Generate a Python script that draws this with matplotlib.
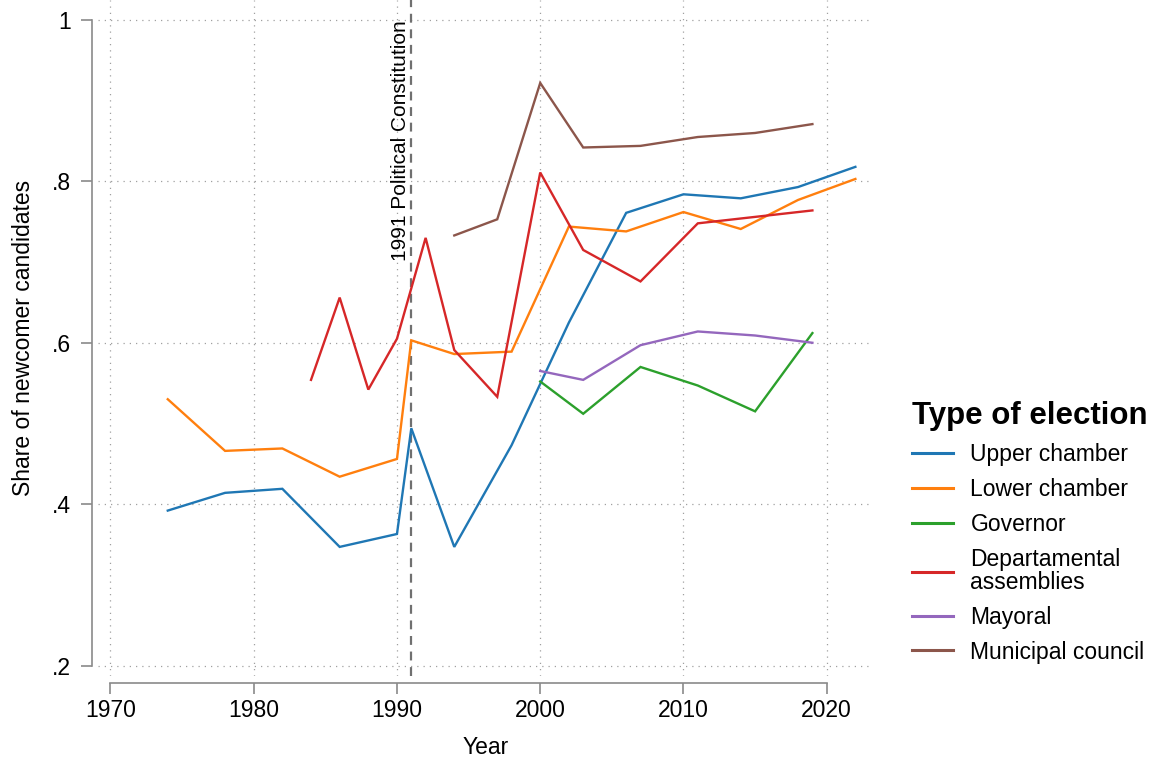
import matplotlib
matplotlib.use("Agg")
import matplotlib.pyplot as plt

plt.rcParams['font.family'] = ['Liberation Sans', 'DejaVu Sans']

# ---- data ----
upper_years = [1974, 1978, 1982, 1986, 1990, 1991, 1994, 1998, 2002, 2006, 2010, 2014, 2018, 2022]
upper_vals = [0.392, 0.414, 0.419, 0.347, 0.363, 0.494, 0.347, 0.473, 0.625, 0.761, 0.784, 0.779, 0.793, 0.818]

lower_years = [1974, 1978, 1982, 1986, 1990, 1991, 1994, 1998, 2002, 2006, 2010, 2014, 2018, 2022]
lower_vals = [0.530, 0.466, 0.469, 0.434, 0.456, 0.603, 0.586, 0.589, 0.744, 0.738, 0.762, 0.741, 0.777, 0.803]

gov_years = [2000, 2003, 2007, 2011, 2015, 2019]
gov_vals = [0.552, 0.512, 0.570, 0.547, 0.515, 0.612]

dep_years = [1984, 1986, 1988, 1990, 1992, 1994, 1997, 2000, 2003, 2007, 2011, 2015, 2019]
dep_vals = [0.554, 0.656, 0.542, 0.605, 0.730, 0.591, 0.533, 0.811, 0.715, 0.676, 0.748, 0.756, 0.764]

may_years = [2000, 2003, 2007, 2011, 2015, 2019]
may_vals = [0.565, 0.554, 0.597, 0.614, 0.609, 0.600]

mun_years = [1994, 1997, 2000, 2003, 2007, 2011, 2015, 2019]
mun_vals = [0.733, 0.753, 0.922, 0.842, 0.844, 0.855, 0.860, 0.871]

series_labels = ["Upper chamber", "Lower chamber", "Governor",
                 "Departamental\nassemblies", "Mayoral", "Municipal council"]
series_colors = ["#1f77b4", "#ff7f0e", "#2ca02c", "#d62728", "#9467bd", "#8c564b"]

x_ticks = [1970, 1980, 1990, 2000, 2010, 2020]
y_ticks = [0.2, 0.4, 0.6, 0.8, 1.0]
y_tick_labels = [".2", ".4", ".6", ".8", "1"]

reform_year = 1991
reform_label = "1991 Political Constitution"

# ---- plot ----
fig = plt.figure(figsize=(11.62, 7.60), dpi=100)
ax = fig.add_axes([98/1162, 1 - 676/760, (873 - 98)/1162, 676/760])

data = [(upper_years, upper_vals), (lower_years, lower_vals), (gov_years, gov_vals),
        (dep_years, dep_vals), (may_years, may_vals), (mun_years, mun_vals)]
for (xs, ys), lab, col in zip(data, series_labels, series_colors):
    ax.plot(xs, ys, color=col, lw=1.7, label=lab, solid_joinstyle='miter')

ax.set_xlim(1969.13, 2023.23)
ax.set_ylim(0.187, 1.0248)

grid_col = "#a0a0a0"
ax.set_xticks(x_ticks)
ax.set_yticks(y_ticks)
ax.set_yticklabels(y_tick_labels)
ax.grid(True, color=grid_col, linestyle=(0, (1, 4)), lw=0.9)
ax.set_axisbelow(True)

spine_col = "#8a8a8a"
for s in ["top", "right"]:
    ax.spines[s].set_visible(False)
ax.spines["left"].set_position(("outward", 4.3))
ax.spines["bottom"].set_position(("outward", 4.8))
ax.spines["left"].set_bounds(0.2, 1.0)
ax.spines["bottom"].set_bounds(1970, 2020)
for s in ["left", "bottom"]:
    ax.spines[s].set_color(spine_col)
    ax.spines[s].set_linewidth(1.2)
ax.tick_params(axis='both', colors=spine_col, labelcolor='black', length=8,
               width=1.2, labelsize=16.5)
ax.tick_params(axis='y', pad=7)
ax.tick_params(axis='x', pad=4)

ax.axvline(reform_year, color="#707070", lw=1.6, linestyle=(0, (4, 3)), zorder=1)
ax.text(reform_year - 0.12, 1.0, reform_label, rotation=90, ha='right', va='top',
        fontsize=15, color='black')

ax.set_xlabel("Year", fontsize=16.5, labelpad=10)
ax.set_ylabel("Share of newcomer candidates", fontsize=16.5, labelpad=12)

leg = fig.legend(loc='upper left', bbox_to_anchor=(912/1162, 1 - 401/760),
                 frameon=False, fontsize=16.5, title="Type of election",
                 title_fontproperties={'weight': 'bold', 'size': 22.5},
                 handlelength=1.8, handletextpad=0.75, labelspacing=0.52,
                 borderpad=0, borderaxespad=0, alignment='left')
for h in leg.get_lines():
    h.set_linewidth(2.2)
for t in leg.get_texts():
    t.set_linespacing(1.0)

fig.savefig("out.png", dpi=100)
